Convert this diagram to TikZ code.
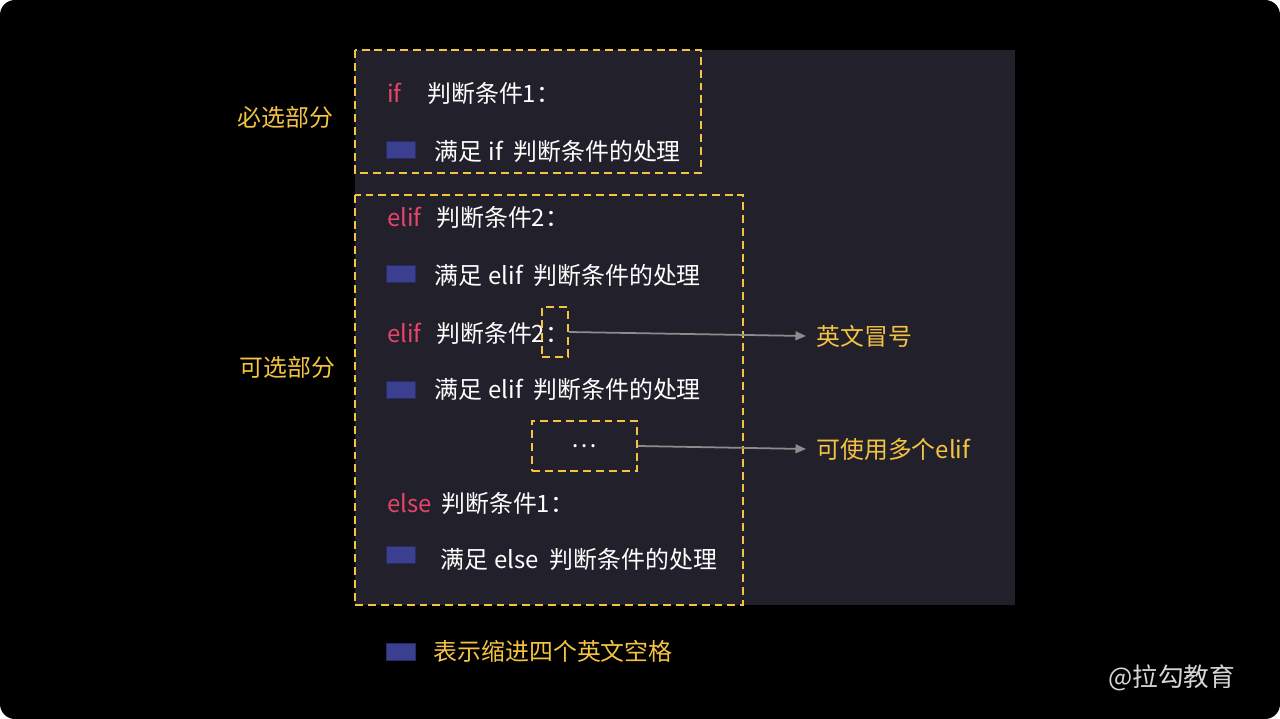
\documentclass[tikz,border=0pt]{standalone}
\usepackage{fontspec}
\newfontfamily\cjk{Noto Sans CJK SC}
\usetikzlibrary{arrows.meta, positioning}

\definecolor{panel}{HTML}{22212B}
\definecolor{hint}{HTML}{F5C342}
\definecolor{kwred}{HTML}{E8436A}
\definecolor{indent}{HTML}{3A3F8F}
\definecolor{arrowgray}{HTML}{8C8C8C}
\definecolor{brand}{HTML}{D6D6D6}

\newcommand\pregap{\hspace{0.25em}}
\newcommand\postgap{\hspace{0.45em}}

\begin{document}
\begin{tikzpicture}[
    x=0.02cm, y=-0.02cm,
    txt/.style={anchor=west, inner sep=0pt, text=white, font=\cjk\fontsize{13.6}{16}\selectfont, text height=11.4pt, text depth=1.1pt},
    kw/.style={txt, text=kwred},
    tag/.style={txt, text=hint},
    frame/.style={draw=hint, line width=1.1pt, dash pattern=on 4.5pt off 2.8pt},
    indentbox/.style={draw=indent!70!black, fill=indent, minimum width=0.58cm, minimum height=0.34cm, inner sep=0pt, anchor=center},
    pointer/.style={draw=arrowgray, line width=1pt, -{Triangle[length=6pt, width=5pt]}}
]

% Background
\fill[white] (0,0) rectangle (1280,719);
\fill[black, rounded corners=0.3cm] (0,0) rectangle (1280,719);
\useasboundingbox (0,0) rectangle (1280,719);
\fill[panel] (355,50) rectangle (1015,605);

% Frames
\draw[frame] (355,50) rectangle (701,173);
\draw[frame] (355,195) rectangle (743,605);

% Side labels
\node (required) [tag] at (237,117) {必选部分};
\node (optional) [tag] at (239,367) {可选部分};

% if branch
\node (if-kw) [kw] at (387,93) {if};
\node (if-cond) [txt] at (427,93) {判断条件1：};
\node (ind1) [indentbox] at (400.5,149.5) {};
\node (if-body) [txt, right=0.38cm of ind1, yshift=-0.03cm] {满足\pregap if\postgap 判断条件的处理};

% elif branches
\node (elif1-kw) [kw] at (387,217) {elif};
\node (elif1-cond) [txt] at (436,217) {判断条件2：};
\node (ind2) [indentbox] at (400.5,273.5) {};
\node (elif1-body) [txt, right=0.38cm of ind2, yshift=-0.03cm] {满足\pregap elif\postgap 判断条件的处理};

\node (elif2-kw) [kw] at (387,333) {elif};
\node (elif2-cond) [txt] at (436,333) {判断条件2：};
\node (colonbox) [frame, minimum width=0.52cm, minimum height=1cm, inner sep=0pt] at (555,332) {};
\node (ind3) [indentbox] at (400.5,389.5) {};
\node (elif2-body) [txt, right=0.38cm of ind3] {满足\pregap elif\postgap 判断条件的处理};

\node (more) [frame, minimum width=2.1cm, minimum height=1cm, inner sep=0pt, text=white, font=\cjk\fontsize{13.6}{16}\selectfont] at (584.5,446) {…};

% else branch
\node (else-kw) [kw] at (387,503) {else};
\node (else-cond) [txt] at (441,503) {判断条件1：};
\node (ind4) [indentbox] at (400.5,555) {};
\node (else-body) [txt, right=0.5cm of ind4, yshift=-0.08cm] {满足\pregap else\postgap 判断条件的处理};

% Notes
\node (colon-note) [tag] at (816,336) {英文冒号};
\node (more-note) [tag] at (816,449) {可使用多个elif};
\node (legend-box) [indentbox] at (400.5,651.5) {};
\node (legend) [tag, right=0.36cm of legend-box] {表示缩进四个英文空格};
\node (brand) [txt, text=brand, font=\cjk\fontsize{14.6}{17}\selectfont] at (1108,677) {@拉勾教育};

% Arrows
\draw[pointer] (colonbox.east) -- ([xshift=-0.2cm]colon-note.west);
\draw[pointer] (more.east) -- ([xshift=-0.2cm]more-note.west);

\end{tikzpicture}
\end{document}
